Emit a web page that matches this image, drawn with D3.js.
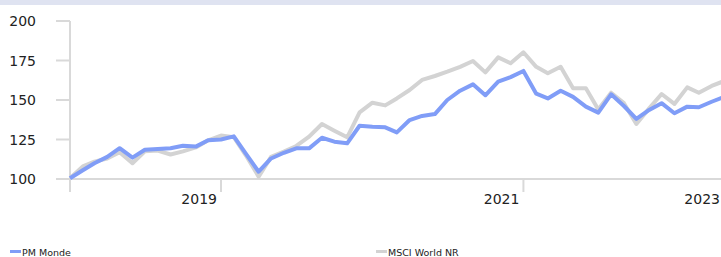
<!DOCTYPE html>
<html>
<head>
<meta charset="utf-8">
<script src="https://cdn.jsdelivr.net/npm/d3@7"></script>
<style>
  body { margin: 0; background: #fff; overflow: hidden; }
  svg { display: block; font-family: "DejaVu Sans", Verdana, sans-serif; }
</style>
</head>
<body>
<div id="chart"></div>
<script>
// monthly points, first one is January 2019
const months = d3.timeMonth.range(new Date(2019, 0, 1), new Date(2023, 5, 1));

const pmMonde = [100.5, 105.5, 110, 114, 119.5, 113.5, 118.5, 119, 119.5, 121, 120.5, 124.5, 125,
  127, 116, 104.6, 113, 116.6, 119.4, 119.4, 126.1, 123.6, 122.6, 133.7, 133.1, 132.7, 129.5,
  137.3, 139.9, 141.1, 150, 155.9, 159.9, 153, 161.6, 164.5, 168.4, 154, 151, 155.9, 152,
  145.8, 142, 153.6, 146.2, 138, 143.7, 148, 141.6, 145.8, 145.4, 148.9, 152];

const msciWorld = [100.5, 108, 111, 113, 117, 110, 117.5, 118, 115.5, 117.5, 120, 124.5, 127.5,
  126.5, 115, 101.5, 114, 117.3, 120.9, 126.8, 134.8, 130.6, 126.4, 142.2, 148.3, 146.6, 151,
  156.3, 162.7, 165.2, 167.9, 171, 174.7, 167.5, 177, 173.3, 180.2, 171, 166.9, 171, 157.4,
  157.4, 144, 154.6, 148, 134.8, 144.7, 153.8, 147.5, 158, 154.6, 158.9, 162];

const yTicks = [100, 125, 150, 175, 200];
// year labels sit just left of the tick that closes the year
const yearTicks = [new Date(2020, 0, 1), new Date(2022, 0, 1), new Date(2024, 0, 1)];
const yearLabels = ["2019", "2021", "2023"];

const series = [
  { name: "MSCI World NR", values: msciWorld, color: "#d3d3d3" },
  { name: "PM Monde", values: pmMonde, color: "#809df7" }
];

const width = 721, height = 257;
const axisColor = "#d9d9d9";

const svg = d3.select("#chart").append("svg")
  .attr("width", width)
  .attr("height", height);

// top band
svg.append("rect")
  .attr("x", 0).attr("y", 0)
  .attr("width", width).attr("height", 5)
  .attr("fill", "#dfe3f1");

const x = d3.scaleTime()
  .domain([months[0], new Date(2020, 0, 1)])
  .range([70, 221]);

const y = d3.scaleLinear()
  .domain([100, 200])
  .range([179, 21]);

// y axis
const yAxis = svg.append("g");
yAxis.append("line")
  .attr("x1", 70).attr("x2", 70)
  .attr("y1", y(200)).attr("y2", 192)
  .attr("stroke", axisColor).attr("stroke-width", 2);
yAxis.selectAll("line.tick")
  .data(yTicks)
  .enter().append("line")
  .attr("class", "tick")
  .attr("x1", 56).attr("x2", 70)
  .attr("y1", d => y(d)).attr("y2", d => y(d))
  .attr("stroke", axisColor).attr("stroke-width", 2);
yAxis.selectAll("text")
  .data(yTicks)
  .enter().append("text")
  .attr("x", 36)
  .attr("y", d => y(d))
  .attr("text-anchor", "end")
  .attr("dominant-baseline", "central")
  .attr("font-size", 14)
  .attr("fill", "#222")
  .text(d => d);

// x axis
const xAxis = svg.append("g");
xAxis.append("line")
  .attr("x1", 70).attr("x2", width)
  .attr("y1", y(100)).attr("y2", y(100))
  .attr("stroke", axisColor).attr("stroke-width", 2);
xAxis.selectAll("line.tick")
  .data(yearTicks)
  .enter().append("line")
  .attr("class", "tick")
  .attr("x1", d => x(d)).attr("x2", d => x(d))
  .attr("y1", y(100)).attr("y2", 192)
  .attr("stroke", axisColor).attr("stroke-width", 2);
xAxis.selectAll("text")
  .data(yearTicks)
  .enter().append("text")
  .attr("x", d => Math.min(x(d) - 4, width - 1))
  .attr("y", 204)
  .attr("text-anchor", "end")
  .attr("font-size", 14)
  .attr("fill", "#222")
  .text((d, i) => yearLabels[i]);

// lines
const line = d3.line()
  .x((d, i) => x(months[i]))
  .y(d => y(d));

svg.append("g")
  .selectAll("path")
  .data(series)
  .enter().append("path")
  .attr("d", d => line(d.values))
  .attr("fill", "none")
  .attr("stroke", d => d.color)
  .attr("stroke-width", 4)
  .attr("stroke-linejoin", "round");

// legend
const legendItems = [
  { name: "PM Monde", color: "#809df7", x: 10 },
  { name: "MSCI World NR", color: "#d3d3d3", x: 376 }
];
const legend = svg.append("g")
  .selectAll("g")
  .data(legendItems)
  .enter().append("g")
  .attr("transform", d => "translate(" + d.x + ",0)");
legend.append("rect")
  .attr("x", 0).attr("y", 250)
  .attr("width", 11).attr("height", 3)
  .attr("fill", d => d.color);
legend.append("text")
  .attr("x", 12).attr("y", 256)
  .attr("font-size", 9.5)
  .attr("fill", "#222")
  .text(d => d.name);
</script>
</body>
</html>
